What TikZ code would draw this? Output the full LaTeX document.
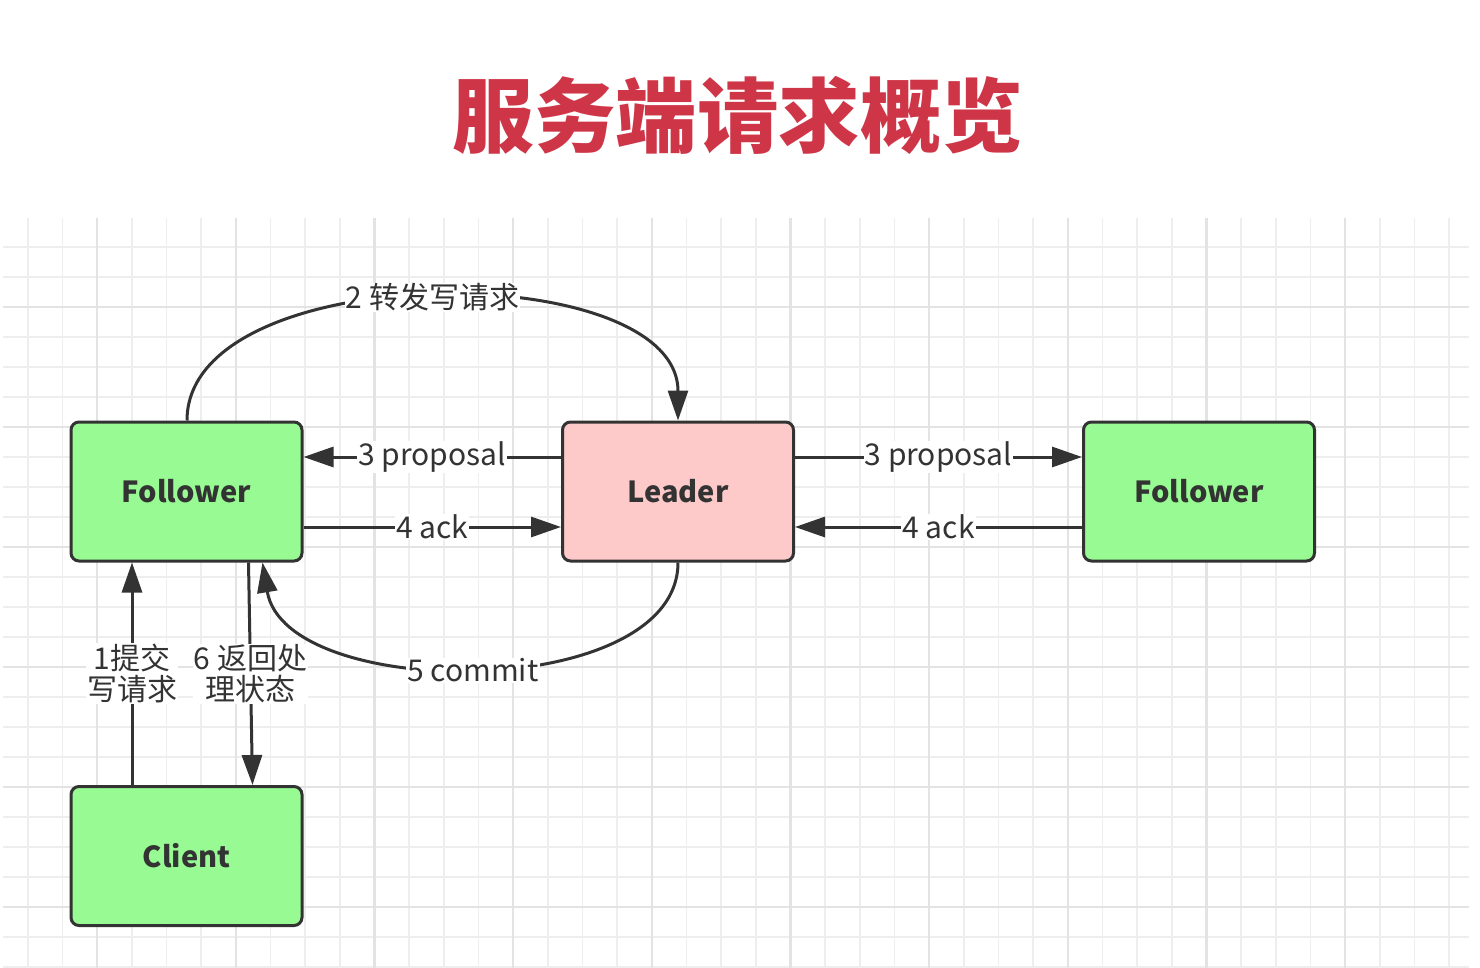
\documentclass[tikz,border=0pt]{standalone}
\usepackage{fontspec}
\setmainfont{Noto Sans CJK SC}
\usetikzlibrary{arrows.meta}
\definecolor{ink}{HTML}{333333}
\definecolor{gfill}{HTML}{97FA92}
\definecolor{pfill}{HTML}{FDC9C9}
\definecolor{titlered}{HTML}{CE3648}
\definecolor{gridminor}{HTML}{EEEEEE}
\definecolor{gridmajor}{HTML}{E3E3E3}
\tikzset{
  box/.style={draw=ink, line width=3pt, rounded corners=8pt, minimum width=231pt,
    minimum height=139pt, inner sep=0pt, font=\fontsize{29}{32}\selectfont\bfseries, text=ink},
  greenbox/.style={box, fill=gfill},
  pinkbox/.style={box, fill=pfill},
  arr/.style={draw=ink, line width=3pt, -{Triangle[length=30pt,width=20pt]}},
  lbl/.style={fill=white, inner sep=1pt, text=ink, align=center,
    font=\fontsize{30}{31}\selectfont},
  minorline/.style={draw=gridminor, line width=1.6pt},
  majorline/.style={draw=gridmajor, line width=2.4pt},
}
\begin{document}
\begin{tikzpicture}[x=1pt,y=-1pt]
\fill[white] (0,0) rectangle (1480,968);
\useasboundingbox (0,0) rectangle (1480,968);
% grid
\foreach \i in {0,...,41} {
  \pgfmathsetmacro\xx{27.7+34.67*\i}
  \draw[minorline] (\xx,218) -- (\xx,968);
}
\foreach \j in {0,...,24} {
  \pgfmathsetmacro\yy{247+30*\j}
  \draw[minorline] (3,\yy) -- (1469,\yy);
}
\foreach \i in {2,6,...,41} {
  \pgfmathsetmacro\xx{27.7+34.67*\i}
  \draw[majorline] (\xx,218) -- (\xx,968);
}
\foreach \j in {2,6,...,24} {
  \pgfmathsetmacro\yy{247+30*\j}
  \draw[majorline] (3,\yy) -- (1469,\yy);
}
% title
\node[font=\fontsize{81.5}{90}\selectfont\bfseries, text=titlered] (title) at (738,115) {服务端请求概览};
% boxes
\node[greenbox] (f1) at (186.5,491.5) {Follower};
\node[pinkbox]  (ld) at (678,491.5) {Leader};
\node[greenbox] (f2) at (1199,491.5) {Follower};
\node[greenbox] (cl) at (186.5,856) {Client};
% horizontal connectors
\draw[arr] ([yshift=34.5pt]ld.west) -- node[lbl]{3 proposal} ([yshift=34.5pt]f1.east);
\draw[arr] ([yshift=-35.5pt]f1.east) -- node[lbl]{4 ack} ([yshift=-35.5pt]ld.west);
\draw[arr] ([yshift=34.5pt]ld.east) -- node[lbl]{3 proposal} ([yshift=34.5pt]f2.west);
\draw[arr] ([yshift=-35.5pt]f2.west) -- node[lbl]{4 ack} ([yshift=-35.5pt]ld.east);
% curves
\draw[arr] ([xshift=0.5pt]f1.north) .. controls +(0,-164) and +(0,-164) .. node[lbl, pos=0.5]{2 转发写请求} (ld.north);
\draw[arr] (ld.south) .. controls +(0,140) and +(23,140) .. node[lbl, pos=0.5, xshift=-6pt, yshift=-3pt]{5 commit} ([xshift=76pt]f1.south);
% vertical connectors
\draw[arr] ([xshift=-54.5pt]cl.north) -- node[lbl]{1提交\\写请求} ([xshift=-54.5pt]f1.south);
\draw[arr] ([xshift=62pt]f1.south) -- node[lbl]{6 返回处\\理状态} ([xshift=66pt]cl.north);
\end{tikzpicture}
\end{document}
